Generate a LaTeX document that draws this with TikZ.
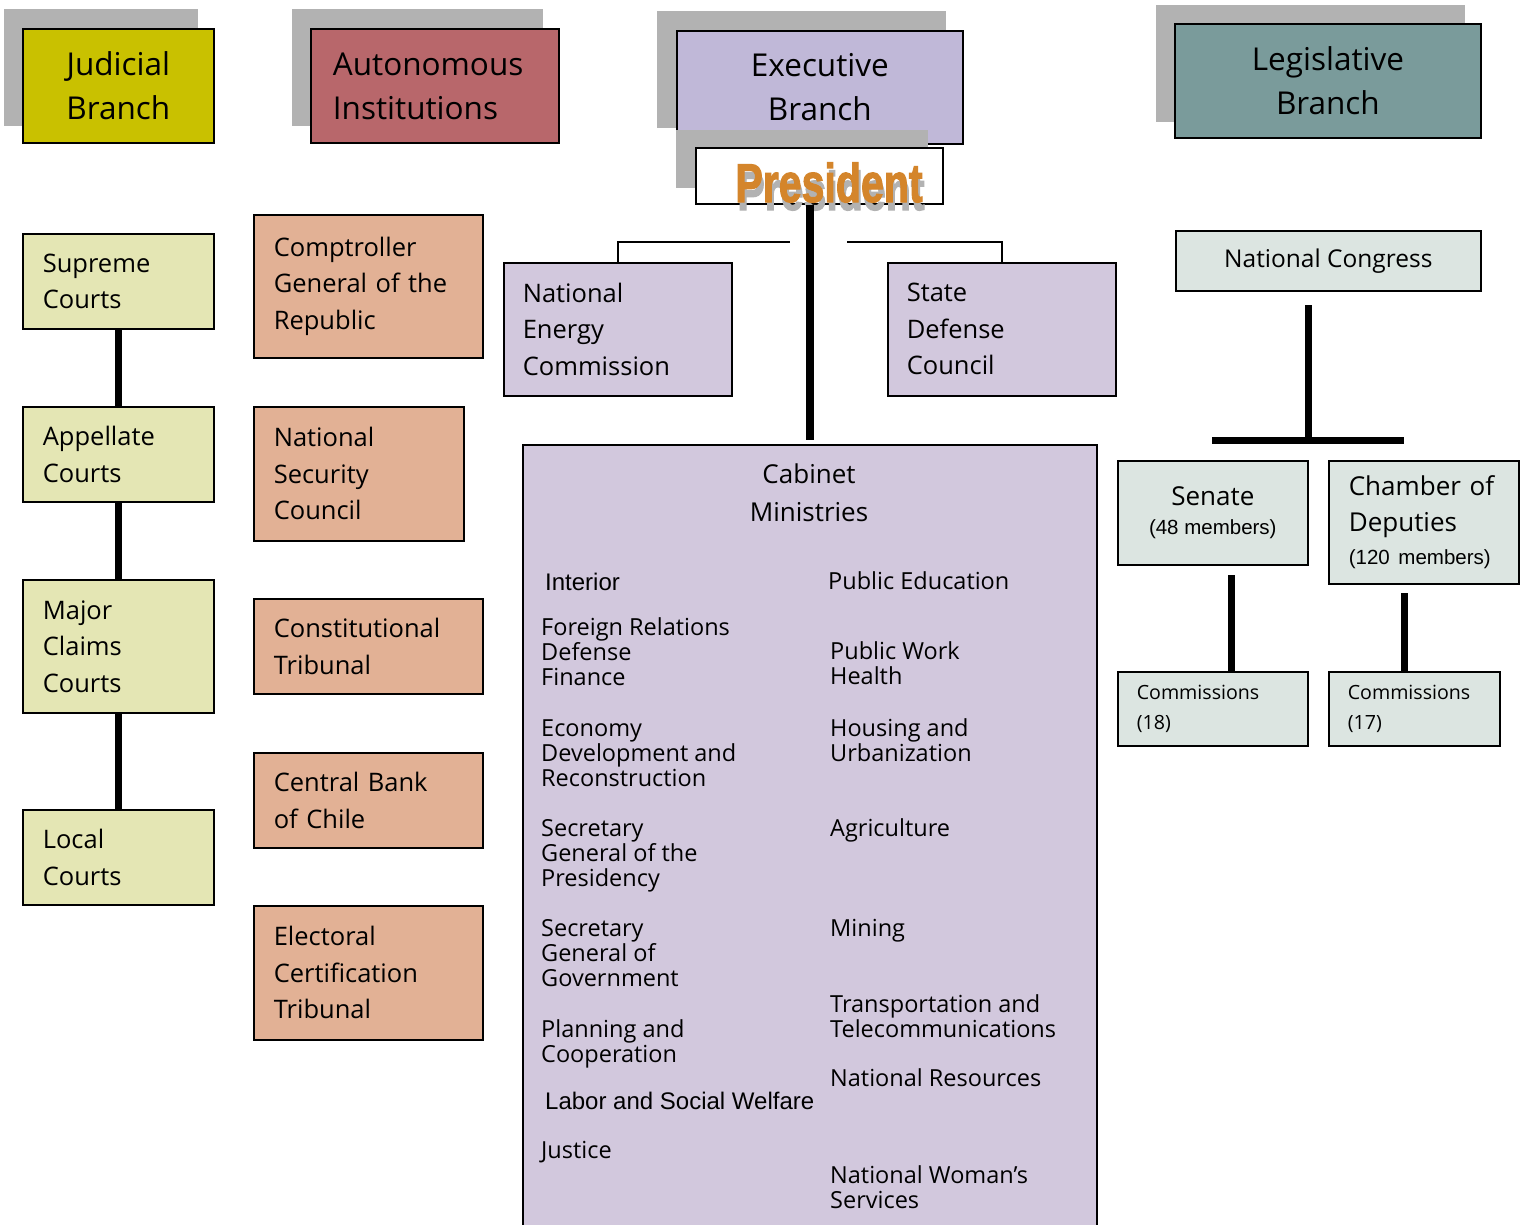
\documentclass[tikz,border=0pt]{standalone}
\usepackage{fontspec}
\setmainfont{Open Sans}
\newfontfamily\arialf{Liberation Sans}
\newfontfamily\impf[FakeBold=2.2]{Liberation Sans Bold}
\usepackage{graphicx}
\definecolor{shd}{HTML}{B2B2B2}
\definecolor{judc}{HTML}{C9C100}
\definecolor{autc}{HTML}{B8676B}
\definecolor{exec}{HTML}{C0B8D8}
\definecolor{legc}{HTML}{7A9B9B}
\definecolor{crtc}{HTML}{E4E6B4}
\definecolor{aitc}{HTML}{E2B195}
\definecolor{eitc}{HTML}{D2C8DD}
\definecolor{litc}{HTML}{DCE5E1}
\definecolor{presc}{HTML}{D4852B}
\newcommand{\hfnt}{\fontsize{31.5}{44}\selectfont}
\newcommand{\bfnt}{\fontsize{25.5}{36.5}\selectfont}
\newcommand{\mfnt}{\fontsize{23.5}{25}\selectfont}
\newcommand{\afnt}{\arialf\fontsize{24}{25}\selectfont}
\begin{document}
\begin{tikzpicture}[x=1pt,y=-1pt,
  shadowbox/.style={fill=shd, draw=none},
  hbox/.style={draw=black, line width=1.8pt, anchor=north west, inner sep=0pt, font=\hfnt},
  ibox/.style={draw=black, line width=1.6pt, anchor=north west, inner ysep=0pt, align=left, font=\bfnt},
  grp/.style={anchor=north west, inner sep=0pt, align=left, font=\mfnt},
  thickline/.style={line width=7pt},
  thinline/.style={line width=1.5pt}
]
\useasboundingbox (0,0) rectangle (1526,1224);

% ---------- header boxes ----------
\fill[shadowbox] (4,9) rectangle (198,126);
\node[hbox, fill=judc, minimum width=191pt, minimum height=114pt, align=center] (jud) at (22,28) {Judicial\\Branch};

\fill[shadowbox] (292,9) rectangle (543,126);
\node[hbox, fill=autc, minimum width=248pt, minimum height=114pt, text width=204pt, inner xsep=22pt, align=left] (aut) at (310,28) {Autonomous\\Institutions};

\fill[shadowbox] (657,11) rectangle (946,128);
\node[hbox, fill=exec, minimum width=286pt, minimum height=113pt, align=center] (exe) at (676,30) {Executive\\Branch};

\fill[shadowbox] (1156,5) rectangle (1465,122);
\node[hbox, fill=legc, minimum width=306pt, minimum height=114pt, align=center] (leg) at (1174,23) {Legislative\\Branch};

% ---------- President ----------
\fill[shadowbox] (676,130) rectangle (928,188);
\node[draw=black, line width=1.6pt, fill=white, anchor=north west, inner sep=0pt, minimum width=247pt, minimum height=56pt] (pres) at (695,147) {};
\node[anchor=base, inner sep=0pt, text=shd] (presS) at (831,210) {\scalebox{0.79}[1.05]{\fontsize{52}{52}\selectfont\impf President}};
\node[anchor=base, inner sep=0pt, text=presc] (presT) at (829,202) {\scalebox{0.79}[1.05]{\fontsize{52}{52}\selectfont\impf President}};

% ---------- Judicial column ----------
\node[ibox, fill=crtc, minimum width=191pt, minimum height=95pt, text width=151pt, inner xsep=20pt] (sup) at (22,233) {Supreme\\Courts};
\node[ibox, fill=crtc, minimum width=191pt, minimum height=95pt, text width=151pt, inner xsep=20pt] (app) at (22,406) {Appellate\\Courts};
\node[ibox, fill=crtc, minimum width=191pt, minimum height=133pt, text width=151pt, inner xsep=20pt] (maj) at (22,579) {Major\\Claims\\Courts};
\node[ibox, fill=crtc, minimum width=191pt, minimum height=95pt, text width=151pt, inner xsep=20pt] (loc) at (22,809) {Local\\Courts};

\draw[thickline] (sup.south) -- (app.north);
\draw[thickline] (app.south) -- (maj.north);
\draw[thickline] (maj.south) -- (loc.north);

% ---------- Autonomous column ----------
\node[ibox, fill=aitc, minimum width=229pt, minimum height=143pt, text width=189pt, inner xsep=20pt] (cgr) at (253,214) {Comptroller\\General of the\\Republic};
\node[ibox, fill=aitc, minimum width=210pt, minimum height=134pt, text width=170pt, inner xsep=20pt] (nsc) at (253,406) {National\\Security\\Council};
\node[ibox, fill=aitc, minimum width=229pt, minimum height=95pt, text width=189pt, inner xsep=20pt] (cti) at (253,598) {Constitutional\\Tribunal};
\node[ibox, fill=aitc, minimum width=229pt, minimum height=95pt, text width=189pt, inner xsep=20pt] (cbc) at (253,752) {Central Bank\\of Chile};
\node[ibox, fill=aitc, minimum width=229pt, minimum height=134pt, text width=189pt, inner xsep=20pt] (ect) at (253,905) {Electoral\\Certification\\Tribunal};

% ---------- Executive column ----------
\node[ibox, fill=eitc, minimum width=228pt, minimum height=133pt, text width=190pt, inner xsep=19pt] (nec) at (503,262) {National\\Energy\\Commission};
\node[ibox, fill=eitc, minimum width=228pt, minimum height=133pt, text width=190pt, inner xsep=19pt] (sdc) at (887,262) {State\\Defense\\Council};
\coordinate (jl) at (790,242);
\coordinate (jr) at (847,242);
\draw[thinline] (nec.north) |- (jl);
\draw[thinline] (sdc.north) |- (jr);

\node[draw=black, line width=1.6pt, fill=eitc, anchor=north west, inner sep=0pt, minimum width=574pt, minimum height=820pt] (cab) at (522,444) {};
\draw[line width=8pt] (pres.south -| cab.north) -- ([yshift=4pt]cab.north);

\node[anchor=center, align=center, inner sep=0pt, font=\fontsize{26}{38}\selectfont] (cabT) at (809,493) {Cabinet\\Ministries};

% left column of ministries
\node[grp, font=\afnt] (m1) at (545,570.5) {\rule{0pt}{20pt}Interior};
\node[grp] (m2) at (541,615.5) {\rule{0pt}{20pt}Foreign Relations\\Defense\\Finance};
\node[grp] (m3) at (541,716.5) {\rule{0pt}{20pt}Economy\\Development and\\Reconstruction};
\node[grp] (m4) at (541,816.5) {\rule{0pt}{20pt}Secretary\\General of the\\Presidency};
\node[grp] (m5) at (541,916.5) {\rule{0pt}{20pt}Secretary\\General of\\Government};
\node[grp] (m6) at (541,1017.5) {\rule{0pt}{20pt}Planning and\\Cooperation};
\node[grp, font=\afnt] (m7) at (545,1089.5) {\rule{0pt}{20pt}Labor and Social Welfare};
\node[grp] (m8) at (541,1138.5) {\rule{0pt}{20pt}Justice};
% right column of ministries
\node[grp] (r1) at (828,569.5) {\rule{0pt}{20pt}Public Education};
\node[grp] (r2) at (830,639.5) {\rule{0pt}{20pt}Public Work\\Health};
\node[grp] (r3) at (830,716.5) {\rule{0pt}{20pt}Housing and\\Urbanization};
\node[grp] (r4) at (830,816.5) {\rule{0pt}{20pt}Agriculture};
\node[grp] (r5) at (830,916.5) {\rule{0pt}{20pt}Mining};
\node[grp] (r6) at (830,992.5) {\rule{0pt}{20pt}Transportation and\\Telecommunications};
\node[grp] (r7) at (830,1066.5) {\rule{0pt}{20pt}National Resources};
\node[grp] (r8) at (830,1163.5) {\rule{0pt}{20pt}National Woman’s\\Services};

% ---------- Legislative column ----------
\node[ibox, fill=litc, minimum width=305pt, minimum height=60pt, align=center, font=\fontsize{24.5}{30}\selectfont] (ncg) at (1175,230) {National Congress};
\node[ibox, fill=litc, minimum width=190pt, minimum height=104pt, align=center, font=\fontsize{26}{33}\selectfont] (sen) at (1117,460) {Senate\\[-4pt]{\arialf\fontsize{20.5}{24}\selectfont (48 members)}};
\node[ibox, fill=litc, minimum width=190pt, minimum height=123pt, text width=150pt, inner xsep=20pt, font=\fontsize{26}{36}\selectfont] (cha) at (1328,460) {Chamber of\\Deputies\\[-3pt]{\arialf\fontsize{20.5}{24}\selectfont (120 members)}};
\node[ibox, fill=litc, minimum width=190pt, minimum height=74pt, text width=152pt, inner xsep=19pt, font=\fontsize{19.6}{30}\selectfont] (c18) at (1117,671) {Commissions\\(18)};
\node[ibox, fill=litc, minimum width=171pt, minimum height=74pt, text width=133pt, inner xsep=19pt, font=\fontsize{19.6}{30}\selectfont] (c17) at (1328,671) {Commissions\\(17)};

\coordinate (cgtop) at (1308,305);
\coordinate (barL) at (1212,440);
\coordinate (barR) at (1404,440);
\coordinate (stop) at (1231,575);
\coordinate (ctop) at (1404,593);
\draw[thickline] (cgtop) -- (cgtop |- barL);
\draw[thickline] (barL) -- (barR);
\draw[thickline] (stop) -- (stop |- c18.north);
\draw[thickline] (ctop) -- (ctop |- c17.north);
\end{tikzpicture}
\end{document}
